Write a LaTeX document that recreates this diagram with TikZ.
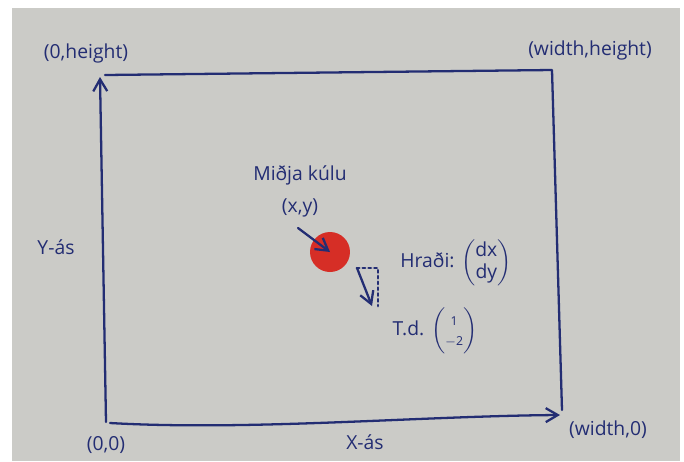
\documentclass[tikz,border=0pt]{standalone}
\usepackage{amsmath}
\usepackage{fontspec}
\setmainfont{Open Sans}
\usepackage{tikz}
\usetikzlibrary{arrows.meta}
\definecolor{ink}{RGB}{35,45,115}
\definecolor{paper}{RGB}{203,203,199}
\definecolor{ballred}{RGB}{214,46,38}

\begin{document}
\begin{tikzpicture}[x=0.02cm,y=-0.02cm,>={Straight Barb[length=2.4mm,width=2.8mm]},
  pen/.style={draw=ink,line width=1.3pt,line cap=round,line join=round},
  lbl/.style={text=ink,font=\fontsize{11}{13}\selectfont,inner sep=1pt}]
% sheet of paper
\fill[white](0,0)rectangle(684,461);
\fill[paper](12,8)rectangle(680,461);
\useasboundingbox(0,0)rectangle(684,461);
% frame and axes
\coordinate(o)at(106,422);
\coordinate(ytop)at(100,77);
\coordinate(tl)at(105,75);
\coordinate(tr)at(552,70);
\coordinate(br)at(562,410);
\coordinate(xo)at(110,423);
\coordinate(xend)at(560,415);
\draw[pen,->](o)--(ytop);
\draw[pen](tl)--(tr)--(br);
\draw[pen,->](xo)..controls(250,431)and(420,416)..(xend);
% corner labels
\node[lbl](oh)at(86,53){(0,height)};
\node[lbl](wh)at(590,50){(width,height)};
\node[lbl](oo)at(106,445){(0,0)};
\node[lbl](wo)at(608,430){(width,0)};
\node[lbl](xas)at(365,442){X-ás};
\node[lbl](yas)at(56,247){Y-ás};
% the ball
\node[lbl](mid)at(300,175){Miðja kúlu};
\node[lbl](pos)at(300,208){(x,y)};
\node[circle,fill=ballred,minimum size=0.8cm,inner sep=0pt](ball)at(330,252){};
\coordinate(ptail)at(298,228);
\draw[pen,->](ptail)--(ball.center);
% velocity
\coordinate(v0)at(357,268);
\coordinate(vc)at(378,268);
\coordinate(v1)at(378,306);
\coordinate(vtip)at(372,306);
\draw[pen,dotted,line width=1.6pt](v0)--(vc)--(v1);
\draw[pen,->](v0)--(vtip);
\node[lbl](vel)at(456,263){Hraði: $\begin{pmatrix}\text{dx}\\\text{dy}\end{pmatrix}$};
\node[lbl](td)at(435,331){T.d. $\left(\begin{array}{@{}c@{}}\text{\scriptsize 1}\\[-2pt]\text{\scriptsize $-$2}\end{array}\right)$};
\end{tikzpicture}
\end{document}
